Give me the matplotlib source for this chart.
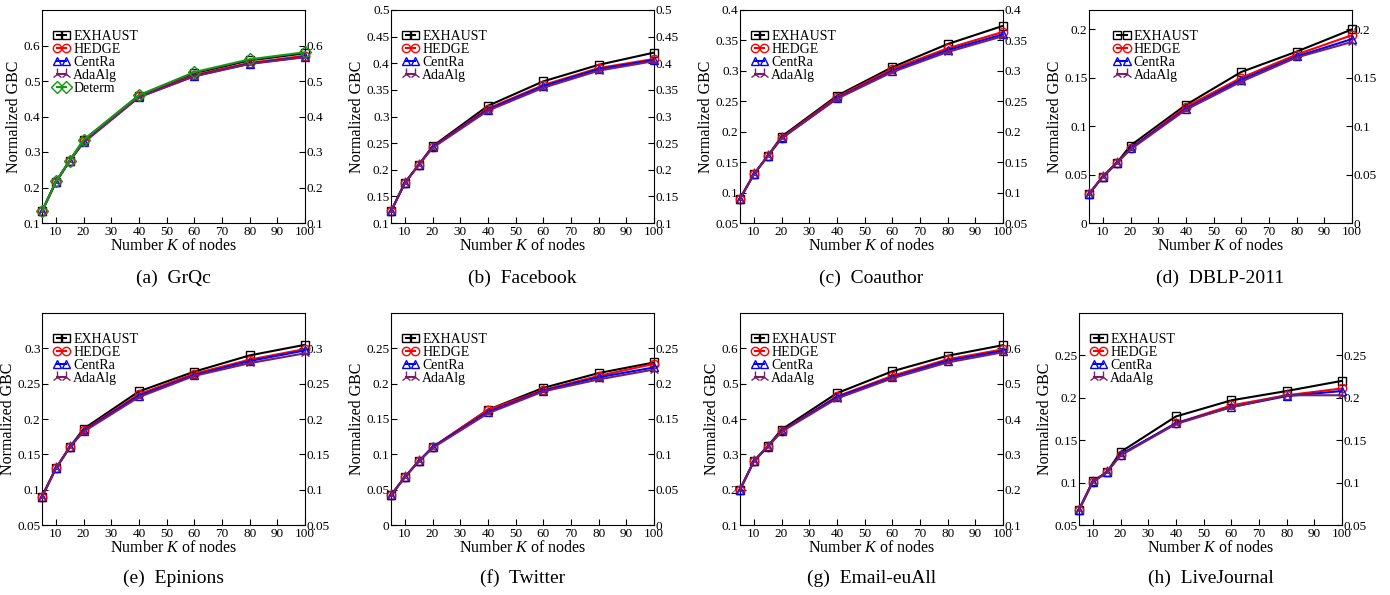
import numpy as np
import matplotlib
matplotlib.use("Agg")
import matplotlib.pyplot as plt

plt.rcParams['font.family'] = ['Liberation Serif', 'DejaVu Serif']
plt.rcParams['mathtext.fontset'] = 'custom'
plt.rcParams['mathtext.it'] = 'Liberation Serif:italic'
plt.rcParams['mathtext.rm'] = 'Liberation Serif'

# number of nodes K
k_values = [5, 10, 15, 20, 40, 60, 80, 100]

# (a) GrQc
grqc_exhaust = [0.133, 0.216, 0.276, 0.333, 0.459, 0.522, 0.558, 0.578]
grqc_hedge = [0.133, 0.216, 0.275, 0.330, 0.457, 0.517, 0.551, 0.571]
grqc_centra = [0.133, 0.215, 0.275, 0.328, 0.455, 0.514, 0.549, 0.568]
grqc_adaalg = [0.133, 0.215, 0.275, 0.326, 0.454, 0.513, 0.548, 0.567]
grqc_determ = [0.133, 0.217, 0.276, 0.334, 0.460, 0.525, 0.561, 0.581]

# (b) Facebook
fb_exhaust = [0.122, 0.176, 0.209, 0.244, 0.320, 0.366, 0.397, 0.420]
fb_hedge = [0.122, 0.175, 0.209, 0.243, 0.315, 0.359, 0.391, 0.408]
fb_centra = [0.122, 0.175, 0.209, 0.242, 0.313, 0.357, 0.389, 0.406]
fb_adaalg = [0.122, 0.175, 0.209, 0.241, 0.311, 0.354, 0.386, 0.404]

# (c) Coauthor
co_exhaust = [0.090, 0.130, 0.160, 0.192, 0.259, 0.306, 0.344, 0.374]
co_hedge = [0.090, 0.130, 0.160, 0.190, 0.257, 0.303, 0.337, 0.364]
co_centra = [0.090, 0.130, 0.160, 0.189, 0.255, 0.300, 0.334, 0.360]
co_adaalg = [0.090, 0.130, 0.160, 0.189, 0.254, 0.298, 0.331, 0.357]

# (d) DBLP-2011
db_exhaust = [0.030, 0.048, 0.062, 0.080, 0.122, 0.156, 0.177, 0.200]
db_hedge = [0.030, 0.048, 0.062, 0.077, 0.120, 0.150, 0.174, 0.194]
db_centra = [0.030, 0.048, 0.062, 0.077, 0.118, 0.148, 0.172, 0.190]
db_adaalg = [0.030, 0.048, 0.062, 0.076, 0.117, 0.146, 0.171, 0.187]

# (e) Epinions
ep_exhaust = [0.090, 0.130, 0.160, 0.186, 0.239, 0.267, 0.290, 0.305]
ep_hedge = [0.090, 0.130, 0.160, 0.184, 0.235, 0.264, 0.284, 0.299]
ep_centra = [0.090, 0.130, 0.160, 0.183, 0.233, 0.262, 0.282, 0.297]
ep_adaalg = [0.090, 0.130, 0.160, 0.182, 0.231, 0.261, 0.279, 0.293]

# (f) Twitter
tw_exhaust = [0.042, 0.068, 0.090, 0.110, 0.163, 0.194, 0.215, 0.230]
tw_hedge = [0.042, 0.068, 0.090, 0.110, 0.163, 0.191, 0.211, 0.228]
tw_centra = [0.042, 0.068, 0.090, 0.110, 0.160, 0.190, 0.209, 0.223]
tw_adaalg = [0.042, 0.068, 0.090, 0.109, 0.158, 0.189, 0.206, 0.220]

# (g) Email-euAll
em_exhaust = [0.200, 0.281, 0.323, 0.370, 0.473, 0.535, 0.579, 0.609]
em_hedge = [0.200, 0.280, 0.322, 0.366, 0.464, 0.522, 0.569, 0.597]
em_centra = [0.200, 0.280, 0.322, 0.365, 0.462, 0.518, 0.565, 0.593]
em_adaalg = [0.200, 0.280, 0.322, 0.364, 0.458, 0.515, 0.560, 0.589]

# (h) LiveJournal
lj_exhaust = [0.068, 0.102, 0.112, 0.136, 0.178, 0.197, 0.208, 0.220]
lj_hedge = [0.068, 0.101, 0.112, 0.133, 0.170, 0.191, 0.203, 0.211]
lj_centra = [0.068, 0.101, 0.112, 0.133, 0.170, 0.189, 0.202, 0.208]
lj_adaalg = [0.068, 0.101, 0.112, 0.132, 0.169, 0.189, 0.203, 0.203]

series_names = ["EXHAUST", "HEDGE", "CentRa", "AdaAlg", "Determ"]
colors = ["black", "red", "blue", "#7a1f63", "#139a13"]
markers = ["s", "o", "^", "2", "D"]

panels = [
    ("(a)  GrQc", [grqc_exhaust, grqc_hedge, grqc_centra, grqc_adaalg, grqc_determ],
     (0.1, 0.7), np.arange(0.1, 0.61, 0.1), "{:.1f}"),
    ("(b)  Facebook", [fb_exhaust, fb_hedge, fb_centra, fb_adaalg],
     (0.1, 0.5), np.arange(0.1, 0.51, 0.05), "{:g}"),
    ("(c)  Coauthor", [co_exhaust, co_hedge, co_centra, co_adaalg],
     (0.05, 0.4), np.arange(0.05, 0.41, 0.05), "{:g}"),
    ("(d)  DBLP-2011", [db_exhaust, db_hedge, db_centra, db_adaalg],
     (0.0, 0.22), np.arange(0.0, 0.21, 0.05), "{:g}"),
    ("(e)  Epinions", [ep_exhaust, ep_hedge, ep_centra, ep_adaalg],
     (0.05, 0.35), np.arange(0.05, 0.31, 0.05), "{:g}"),
    ("(f)  Twitter", [tw_exhaust, tw_hedge, tw_centra, tw_adaalg],
     (0.0, 0.3), np.arange(0.0, 0.26, 0.05), "{:g}"),
    ("(g)  Email-euAll", [em_exhaust, em_hedge, em_centra, em_adaalg],
     (0.1, 0.7), np.arange(0.1, 0.61, 0.1), "{:.1f}"),
    ("(h)  LiveJournal", [lj_exhaust, lj_hedge, lj_centra, lj_adaalg],
     (0.05, 0.3), np.arange(0.05, 0.26, 0.05), "{:g}"),
]

W, H = 1390, 595
lefts = [42, 391, 740, 1089, 42, 391, 740, 1079]
tops = [10, 10, 10, 10, 313, 313, 313, 313]
bottoms = [223, 223, 223, 223, 525, 525, 525, 525]
legend_x = [0.04, 0.04, 0.04, 0.09, 0.04, 0.04, 0.04, 0.04]
axw = 263

fig = plt.figure(figsize=(W / 100, H / 100), dpi=100)

for i, (caption, data, ylim, yticks, fmt) in enumerate(panels):
    ax = fig.add_axes([lefts[i] / W, 1 - bottoms[i] / H, axw / W, (bottoms[i] - tops[i]) / H])
    for j, vals in enumerate(data):
        ax.plot(k_values, vals, color=colors[j], marker=markers[j], markersize=6 if markers[j] != "2" else 8,
                markerfacecolor="none", markeredgecolor=colors[j], markeredgewidth=1.0,
                linewidth=1.5, label=series_names[j], clip_on=False, zorder=3)
    ax.set_xlim(5, 100)
    ax.set_ylim(*ylim)
    ax.set_xticks(range(10, 101, 10))
    ax.set_yticks(yticks)
    ax.set_yticklabels([fmt.format(round(v, 2)) for v in yticks])
    ax.tick_params(direction="in", length=4, width=0.8, labelsize=9.5, right=True, labelright=True, pad=2)
    ax.tick_params(axis="y", pad=1)
    for s in ax.spines.values():
        s.set_linewidth(0.8)
    ax.set_xlabel("Number $K$ of nodes", fontsize=11.5, labelpad=0)
    ax.set_ylabel("Normalized GBC", fontsize=11.5, labelpad=1)
    ax.legend(loc="upper left", bbox_to_anchor=(legend_x[i], 0.905), frameon=False, fontsize=10,
              numpoints=2, handlelength=1.3, handletextpad=0.2, labelspacing=0.0, borderaxespad=0,
              borderpad=0)
    cx = (lefts[i] + axw / 2) / W
    cy = 1 - (278 if i < 4 else 578) / H
    fig.text(cx, cy, caption, ha="center", va="center", fontsize=14)

fig.savefig("out.png", dpi=100)
